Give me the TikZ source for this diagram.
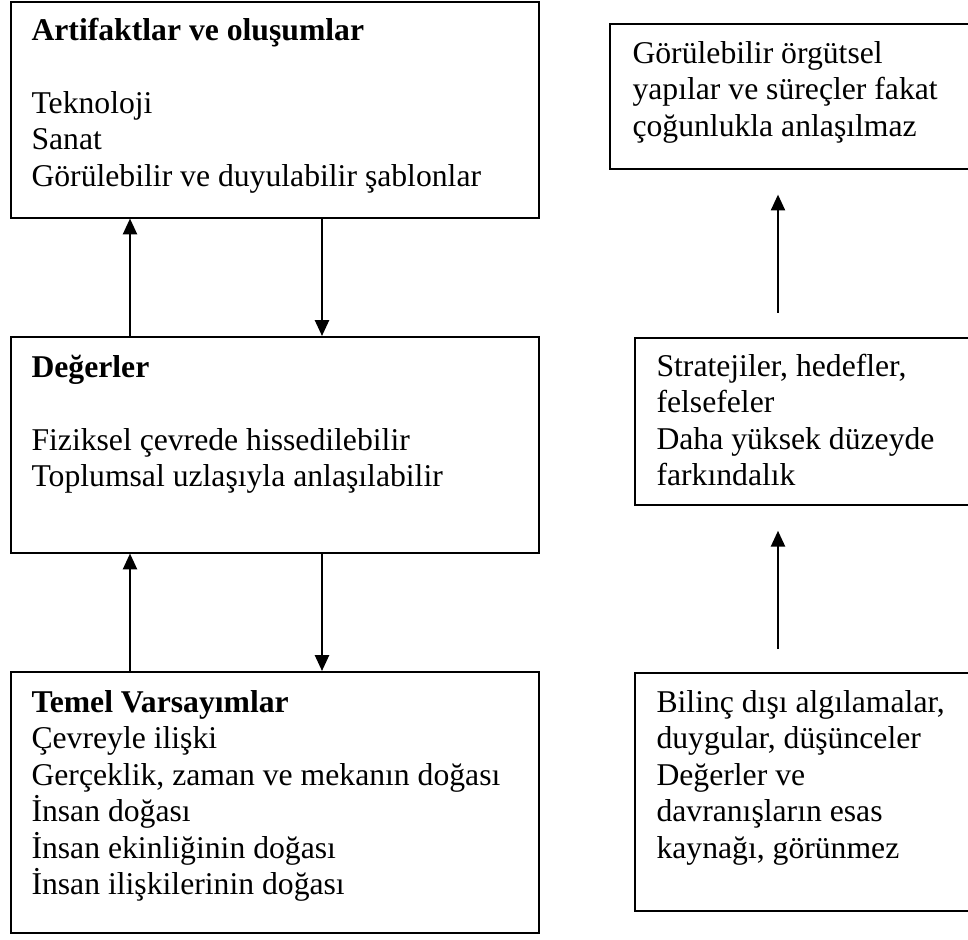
\documentclass[tikz,border=0pt]{standalone}
\usepackage{fontspec}
\setmainfont{Liberation Serif}
\usetikzlibrary{arrows.meta}
\newcommand{\firstln}{\rule{0pt}{12pt}}

\begin{document}
\begin{tikzpicture}[x=0.3788pt, y=-0.3788pt,
        box/.style={draw, rectangle, line width=0.6pt, inner sep=0pt, anchor=north west},
        txt/.style={anchor=north west, inner sep=0pt, align=left, font=\fontsize{12}{13.8}\selectfont},
        arr/.style={-{Triangle[length=6pt, width=5.3pt]}, line width=0.85pt}]
        \useasboundingbox (0,0) rectangle (968,940);
        \clip (0,0) rectangle (968,940);

        % left column
        \node[box, minimum width=200pt, minimum height=81.8pt] (arti) at (10,1) {};
        \node[box, minimum width=200pt, minimum height=81.8pt] (deger) at (10,336) {};
        \node[box, minimum width=200pt, minimum height=98.9pt] (temel) at (10,671) {};

        \node[txt] (artitxt) at (31,8.3) {\firstln\textbf{Artifaktlar ve oluşumlar}\\[13.8pt]
            Teknoloji\\ Sanat\\ Görülebilir ve duyulabilir şablonlar};
        \node[txt] (degertxt) at (31,345.3) {\firstln\textbf{Değerler}\\[13.8pt]
            Fiziksel çevrede hissedilebilir\\ Toplumsal uzlaşıyla anlaşılabilir};
        \node[txt] (temeltxt) at (31,680.3) {\firstln\textbf{Temel Varsayımlar}\\ Çevreyle ilişki\\
            Gerçeklik, zaman ve mekanın doğası\\ İnsan doğası\\ İnsan ekinliğinin doğası\\
            İnsan ilişkilerinin doğası};

        % right column
        \node[box, minimum width=138.6pt, minimum height=54.9pt] (gorunur) at (609,23) {};
        \node[box, minimum width=129.2pt, minimum height=63.3pt] (strat) at (634,337) {};
        \node[box, minimum width=129.2pt, minimum height=90.2pt] (bilinc) at (634,672) {};

        \node[txt] (gorunurtxt) at (632,31.3) {\firstln Görülebilir örgütsel\\
            yapılar ve süreçler fakat\\ çoğunlukla anlaşılmaz};
        \node[txt] (strattxt) at (656,344.3) {\firstln Stratejiler, hedefler,\\ felsefeler\\
            Daha yüksek düzeyde\\ farkındalık};
        \node[txt] (bilinctxt) at (656,680.3) {\firstln Bilinç dışı algılamalar,\\
            duygular, düşünceler\\ Değerler ve\\ davranışların esas\\ kaynağı, görünmez};

        % arrows
        \coordinate (lup) at (130,0);
        \coordinate (ldn) at (322,0);
        \coordinate (rup) at (778,0);
        \draw[arr] (deger.north -| lup) -- (arti.south -| lup);
        \draw[arr] (arti.south -| ldn) -- (deger.north -| ldn);
        \draw[arr] (temel.north -| lup) -- (deger.south -| lup);
        \draw[arr] (deger.south -| ldn) -- (temel.north -| ldn);
        \draw[arr, shorten <=9.1pt, shorten >=9.5pt] (strat.north -| rup) -- (gorunur.south -| rup);
        \draw[arr, shorten <=8.7pt, shorten >=9.5pt] (bilinc.north -| rup) -- (strat.south -| rup);
    \end{tikzpicture}
\end{document}
